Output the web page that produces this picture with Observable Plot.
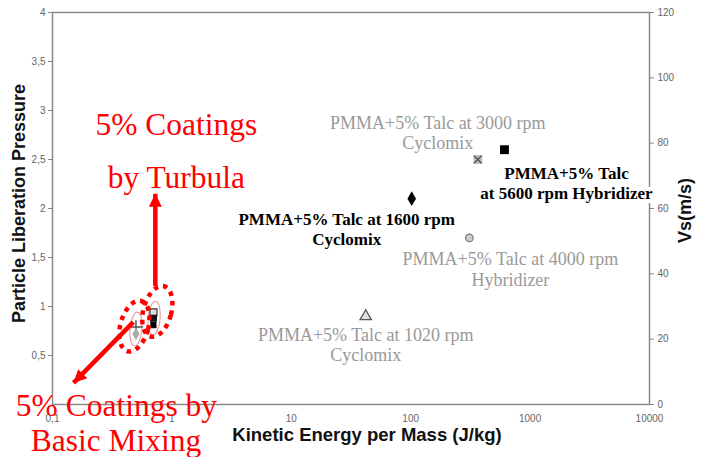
<!DOCTYPE html>
<html><head><meta charset="utf-8">
<script src="https://cdn.jsdelivr.net/npm/d3@7"></script>
<script src="https://cdn.jsdelivr.net/npm/@observablehq/plot@0.6"></script>
<style>
body{margin:0;background:#fff;}
#chart svg{display:block;}
</style></head><body><div id="chart"></div>
<script>
// ---- data ----
const samples = ["1020 rpm Cyclomix", "1600 rpm Cyclomix", "3000 rpm Cyclomix", "4000 rpm Hybridizer", "5600 rpm Hybridizer"];
const kineticEnergy = [42, 102, 365, 310, 610];          // J/kg
const liberationPressure = [0.9, 2.1, 2.5, 1.7, 2.6];
const sampleLabels = [
  "PMMA+5% Talc at 1020 rpm\nCyclomix",
  "PMMA+5% Talc at 1600 rpm\nCyclomix",
  "PMMA+5% Talc at 3000 rpm\nCyclomix",
  "PMMA+5% Talc at 4000 rpm\nHybridizer",
  "PMMA+5% Talc\nat 5600 rpm Hybridizer"
];

const mixSamples = ["Basic mixing +", "Basic mixing diamond", "Turbula grey square", "Turbula black square", "Turbula black"];
const mixEnergy = [0.5, 0.5, 0.7, 0.7, 0.7];
const mixPressure = [0.79, 0.72, 0.94, 0.88, 0.81];

const xTicks = [0.1, 1, 10, 100, 1000, 10000];
const xTickLabels = ["0,1", "1", "10", "100", "1000", "10000"];
const yTicks = [0.5, 1, 1.5, 2, 2.5, 3, 3.5, 4];
const yTickLabels = ["0,5", "1", "1,5", "2", "2,5", "3", "3,5", "4"];
const vsTicks = [0, 20, 40, 60, 80, 100, 120];
const vsMax = 120, pressureMax = 4;

// annotation anchors (data units)
const groupNames = ["Basic Mixing", "Turbula"];
const groupEnergy = [0.485, 0.755];
const groupPressure = [0.80, 0.95];
const innerEnergy = [0.5, 0.71];
const innerPressure = [0.77, 0.88];
const noteLines = ["5% Coatings", "by Turbula", "5% Coatings by", "Basic Mixing"];
const noteEnergy = [1.09, 1.09, 0.343, 0.34];
const notePressure = [2.85, 2.31, -0.01, -0.37];
const arrowFrom = [[0.726, 1.21], [0.475, 0.84]];
const arrowTo = [[0.726, 2.15], [0.15, 0.22]];
const arrowHeadAngle = [0, 225];

// ---- build ----
const pts = samples.map((s, i) => ({sample: s, x: kineticEnergy[i], y: liberationPressure[i], label: sampleLabels[i]}));
const mix = mixSamples.map((s, i) => ({sample: s, x: mixEnergy[i], y: mixPressure[i]}));
const groups = groupNames.map((g, i) => ({g, x: groupEnergy[i], y: groupPressure[i], xi: innerEnergy[i], yi: innerPressure[i]}));
const notes = noteLines.map((t, i) => ({t, x: noteEnergy[i], y: notePressure[i]}));
const arrows = arrowFrom.map((a, i) => ({x1: a[0], y1: a[1], x2: arrowTo[i][0], y2: arrowTo[i][1], angle: arrowHeadAngle[i]}));

const fmtX = new Map(xTicks.map((t, i) => [t, xTickLabels[i]]));
const fmtY = new Map(yTicks.map((t, i) => [t, yTickLabels[i]]));

function ellipse(rx, ry, deg) {
  const a = deg * Math.PI / 180, c = Math.cos(a), s = Math.sin(a), k = 0.5523;
  const P = (x, y) => [x * c - y * s, x * s + y * c];
  return {draw(ctx) {
    const q = [[rx,0],[rx,k*ry],[k*rx,ry],[0,ry],[-k*rx,ry],[-rx,k*ry],[-rx,0],[-rx,-k*ry],[-k*rx,-ry],[0,-ry],[k*rx,-ry],[rx,-k*ry],[rx,0]].map(p => P(p[0], p[1]));
    ctx.moveTo(q[0][0], q[0][1]);
    for (let i = 1; i < q.length; i += 3) ctx.bezierCurveTo(q[i][0], q[i][1], q[i+1][0], q[i+1][1], q[i+2][0], q[i+2][1]);
    ctx.closePath();
  }};
}
// filled arrow head whose tip sits at the origin, pointing up
const headSymbol = {draw(ctx) { ctx.moveTo(0, 0); ctx.lineTo(6.5, 13); ctx.lineTo(-6.5, 13); ctx.closePath(); }};

const serif = "'Liberation Serif', 'Times New Roman', serif";
const sans = "Arial, 'Liberation Sans', sans-serif";
const labelOffsets = [[0, 28], [-65, 30], [-40, -27], [41, 31], [62, 33]];
const labelDark = [false, true, false, false, true];

const labelMarks = pts.map((p, i) => Plot.text([p], {
  x: "x", y: "y", text: "label",
  dx: labelOffsets[i][0], dy: labelOffsets[i][1],
  fontFamily: serif,
  fontSize: labelDark[i] ? 17 : 18,
  fontWeight: labelDark[i] ? "bold" : "normal",
  fill: labelDark[i] ? "#000" : "#999",
  lineHeight: labelDark[i] ? 1.15 : 1.13,
  stroke: i === 4 ? "white" : null, strokeWidth: 8,
  textAnchor: "middle", lineAnchor: "middle"
}));

const chart = Plot.plot({
  width: 702, height: 457,
  marginLeft: 52, marginRight: 53, marginTop: 12, marginBottom: 53,
  style: {fontFamily: sans, fontSize: "10px", color: "#666", background: "white", overflow: "visible"},
  x: {type: "log", domain: [0.1, 10000]},
  y: {domain: [0, pressureMax]},
  marks: [
    Plot.frame({stroke: "#8a8a8a", strokeWidth: 1.5}),
    Plot.axisX(xTicks, {tickFormat: d => fmtX.get(d), tickSize: 0, tickPadding: 10, label: null, fill: "#666"}),
    Plot.axisY(yTicks, {anchor: "left", tickFormat: d => fmtY.get(d), tickSize: 4, tickPadding: 3, label: null, stroke: "#888", fill: "#666"}),
    Plot.axisY(vsTicks.map(v => v * pressureMax / vsMax), {anchor: "right", tickFormat: d => Math.round(d * vsMax / pressureMax), tickSize: 4, tickPadding: 4, label: null, stroke: "#888", fill: "#666"}),
    // axis titles
    Plot.text(["Particle Liberation Pressure"], {frameAnchor: "left", dx: -33, dy: -5, rotate: -90, textAnchor: "middle", fontFamily: sans, fontWeight: "bold", fontSize: 18, fill: "#111"}),
    Plot.text(["Vs(m/s)"], {frameAnchor: "right", dx: 36, dy: 2, rotate: -90, textAnchor: "middle", fontFamily: sans, fontWeight: "bold", fontSize: 18, fill: "#111"}),
    Plot.text(["Kinetic Energy per Mass (J/kg)"], {frameAnchor: "bottom", dx: 16, dy: 36, fontFamily: sans, fontWeight: "bold", fontSize: 18.5, fill: "#111"}),
    // sample labels
    ...labelMarks,
    // sample points
    Plot.dot([pts[0]], {x: "x", y: "y", symbol: "triangle", r: 4.2, fill: "#e0e0e0", stroke: "#555", strokeWidth: 1.3}),
    Plot.dot([pts[1]], {x: "x", y: "y", symbol: "diamond", r: 4.5, fill: "#000"}),
    Plot.dot([pts[2]], {x: "x", y: "y", symbol: "square", r: 5, fill: "#bdbdbd"}),
    Plot.dot([pts[2]], {x: "x", y: "y", symbol: "times", r: 3.5, stroke: "#555", strokeWidth: 1.3}),
    Plot.dot([pts[3]], {x: "x", y: "y", symbol: "circle", r: 3.8, fill: "#ccc", stroke: "#777", strokeWidth: 1.2}),
    Plot.dot([pts[4]], {x: "x", y: "y", symbol: "square", r: 5, fill: "#000"}),
    // coating cluster
    Plot.dot(groups, {x: "xi", y: "yi", symbol: ellipse(6, 17, 5), stroke: "#e8a0a0", strokeWidth: 1.2, fill: "none"}),
    Plot.dot([mix[0]], {x: "x", y: "y", symbol: "plus", r: 4.5, stroke: "#555", strokeWidth: 1.5}),
    Plot.dot([mix[1]], {x: "x", y: "y", symbol: "diamond", r: 3.8, fill: "#aaa"}),
    Plot.dot([mix[2]], {x: "x", y: "y", symbol: "square", r: 4, fill: "#ddd", stroke: "#333", strokeWidth: 1.2}),
    Plot.dot([mix[3]], {x: "x", y: "y", symbol: "square", r: 4, fill: "#111"}),
    Plot.dot([mix[4]], {x: "x", y: "y", symbol: "square", r: 3.5, fill: "#000"}),
    Plot.dot(groups, {x: "x", y: "y", symbol: ellipse(14, 26, 15), stroke: "#ff0000", strokeWidth: 4.5, strokeDasharray: "4.5 5", fill: "none"}),
    // arrows: shaft + filled head
    Plot.link(arrows, {x1: "x1", y1: "y1", x2: "x2", y2: "y2", stroke: "#ff0000", strokeWidth: 4.5}),
    Plot.dot(arrows, {x: "x2", y: "y2", symbol: headSymbol, rotate: "angle", fill: "#ff0000"}),
    // red annotations
    Plot.text(notes, {x: "x", y: "y", text: "t", fontFamily: serif, fontSize: 31.5, fill: "#ff0000", textAnchor: "middle", lineAnchor: "middle"})
  ]
});
document.getElementById("chart").appendChild(chart);
</script>
</body></html>
